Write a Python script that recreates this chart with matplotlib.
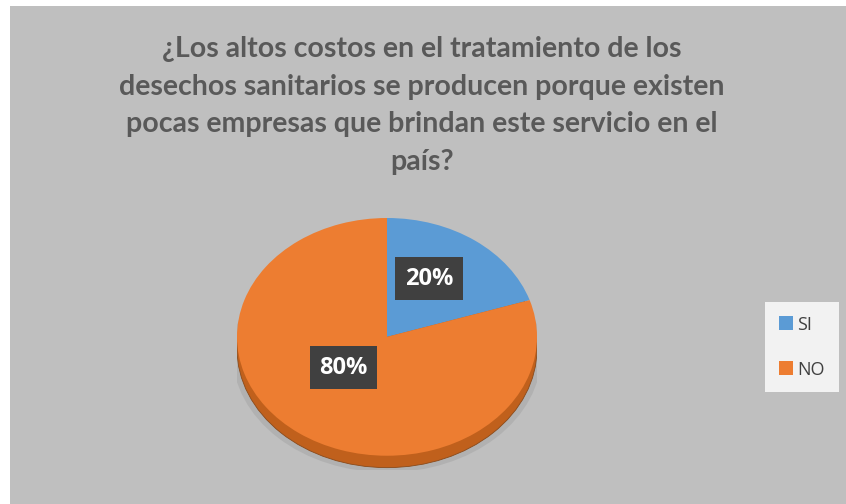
import matplotlib.pyplot as plt
from matplotlib.patches import Rectangle, Ellipse

labels = ['SI', 'NO']
values = [20, 80]
colors = ['#5b9bd5', '#ed7d31']
title = ('¿Los altos costos en el tratamiento de los\n'
         'desechos sanitarios se producen porque existen\n'
         'pocas empresas que brindan este servicio en el\n'
         'país?')

W, H = 846, 504
fig = plt.figure(figsize=(W / 100, H / 100), dpi=100)
fig.patch.set_facecolor('white')

# gray chart area
fig.patches.append(Rectangle((10 / W, 0), 1 - 10 / W, 1 - 6 / H,
                             transform=fig.transFigure, facecolor='#bfbfbf',
                             edgecolor='none', zorder=-5))

fig.text(422 / W, 1 - 36 / H, title, ha='center', va='top', fontsize=20.5,
         fontweight='bold', color='#595959', family='Lato', linespacing=1.55)

# pie axes (pixel box)
px0, py0, pw, ph = 237, 218, 300, 252
ax = fig.add_axes([px0 / W, 1 - (py0 + ph) / H, pw / W, ph / H])

wedges, _ = ax.pie(values, colors=colors, startangle=90, counterclock=False,
                   radius=1.0, wedgeprops=dict(edgecolor='none'))
for w in wedges:
    w.set_zorder(2)

# shadow and side depth
ax.add_patch(Ellipse((0.0, -0.14), 2.06, 2.0, facecolor='#a8a8a8',
                     edgecolor='none', alpha=0.6, zorder=0))
ax.add_patch(Ellipse((0.0, -0.1), 2.0, 2.0, facecolor='#c0601c',
                     edgecolor='#8a4a1a', lw=0.6, zorder=1))

ax.set_aspect('auto')
ax.set_xlim(-1.0, 1.0)
ax.set_ylim(-1.12, 1.0)
ax.axis('off')

# data labels
lab_pos = [(0.28, 0.49), (-0.29, -0.26)]
for v, (x, y) in zip(values, lab_pos):
    ax.text(x, y, f'{v}%', ha='center', va='center', fontsize=17,
            fontweight='bold', color='white', family='Open Sans', zorder=5,
            bbox=dict(boxstyle='square,pad=0.4', facecolor='#404040',
                      edgecolor='none'))

# legend
leg = fig.legend(handles=wedges, labels=labels, loc='upper left',
                 bbox_to_anchor=(765 / W, 1 - 302 / H), borderaxespad=0,
                 frameon=True, fancybox=False, facecolor='#f2f2f2',
                 edgecolor='none', framealpha=1, handlelength=0.8,
                 handleheight=0.8, labelspacing=1.5, borderpad=0.75,
                 handletextpad=0.25, prop={'family': 'Open Sans', 'size': 13})
for t in leg.get_texts():
    t.set_color('#404040')

fig.savefig('out.png', dpi=100)
